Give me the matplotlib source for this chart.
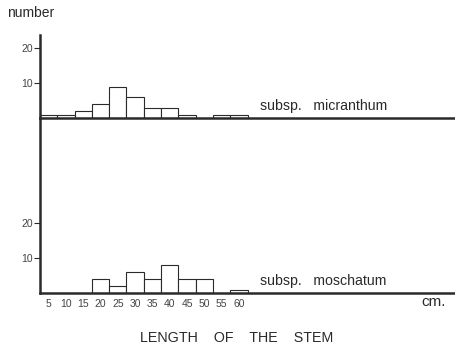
import numpy as np
import matplotlib
matplotlib.use('Agg')
import matplotlib.pyplot as plt

# stem length classes (cm) and counts per subspecies
lengths = [5, 10, 15, 20, 25, 30, 35, 40, 45, 50, 55, 60]
micranthum = [1, 1, 2, 4, 9, 6, 3, 3, 1, 0, 1, 1]
moschatum = [0, 0, 0, 4, 2, 6, 4, 8, 4, 4, 0, 1]
y_ticks = [10, 20]

W, H = 456, 349
ink = '#2a2a2a'

plt.rcParams['font.family'] = ['Liberation Sans', 'DejaVu Sans']

fig = plt.figure(figsize=(W / 100, H / 100), dpi=100)
fig.patch.set_facecolor('white')

# pixel layout: axis at x=40, baselines at y=118 and y=293
px_per_unit = 3.5
px_per_cm = 3.46
x0 = 2.5
xmax = x0 + (W - 40) / px_per_cm

def make_axes(top_px, base_px):
    ax = fig.add_axes([40 / W, 1 - base_px / H, (W - 40) / W, (base_px - top_px) / H])
    ax.set_xlim(x0, xmax)
    ax.set_ylim(0, (base_px - top_px) / px_per_unit)
    for s in ['top', 'right']:
        ax.spines[s].set_visible(False)
    for s in ['left', 'bottom']:
        ax.spines[s].set_linewidth(1.8)
        ax.spines[s].set_color(ink)
    ax.set_yticks(y_ticks)
    ax.set_yticklabels([str(t) for t in y_ticks], fontsize=7.5, color='#444444')
    ax.tick_params(axis='y', length=4, width=0.8, color=ink, pad=1)
    ax.patch.set_alpha(0)
    return ax

ax_top = make_axes(35, 118)
ax_bot = make_axes(118, 293)

for ax, counts, label, ly in [(ax_top, micranthum, 'subsp.   micranthum', 106),
                              (ax_bot, moschatum, 'subsp.   moschatum', 281)]:
    xs = [l for l, c in zip(lengths, counts) if c > 0]
    hs = [c for c in counts if c > 0]
    ax.bar(xs, hs, width=5, facecolor='white', edgecolor=ink, linewidth=0.8, zorder=2)
    fig.text(260 / W, 1 - ly / H, label, fontsize=10.2, color=ink, ha='left', va='center')

ax_top.set_xticks([])
ax_bot.set_xticks(lengths)
ax_bot.set_xticklabels([str(l) for l in lengths], fontsize=7.5, color='#444444')
ax_bot.tick_params(axis='x', length=0, pad=4)

fig.text(7 / W, 1 - 13 / H, 'number', fontsize=10, color=ink, ha='left', va='center')
fig.text(421 / W, 1 - 302 / H, 'cm.', fontsize=11, color=ink, ha='left', va='center')
fig.text(237 / W, 1 - 338 / H, 'LENGTH    OF    THE    STEM', fontsize=10.3,
         color=ink, ha='center', va='center')

plt.savefig('out.png', dpi=100, facecolor='white')
